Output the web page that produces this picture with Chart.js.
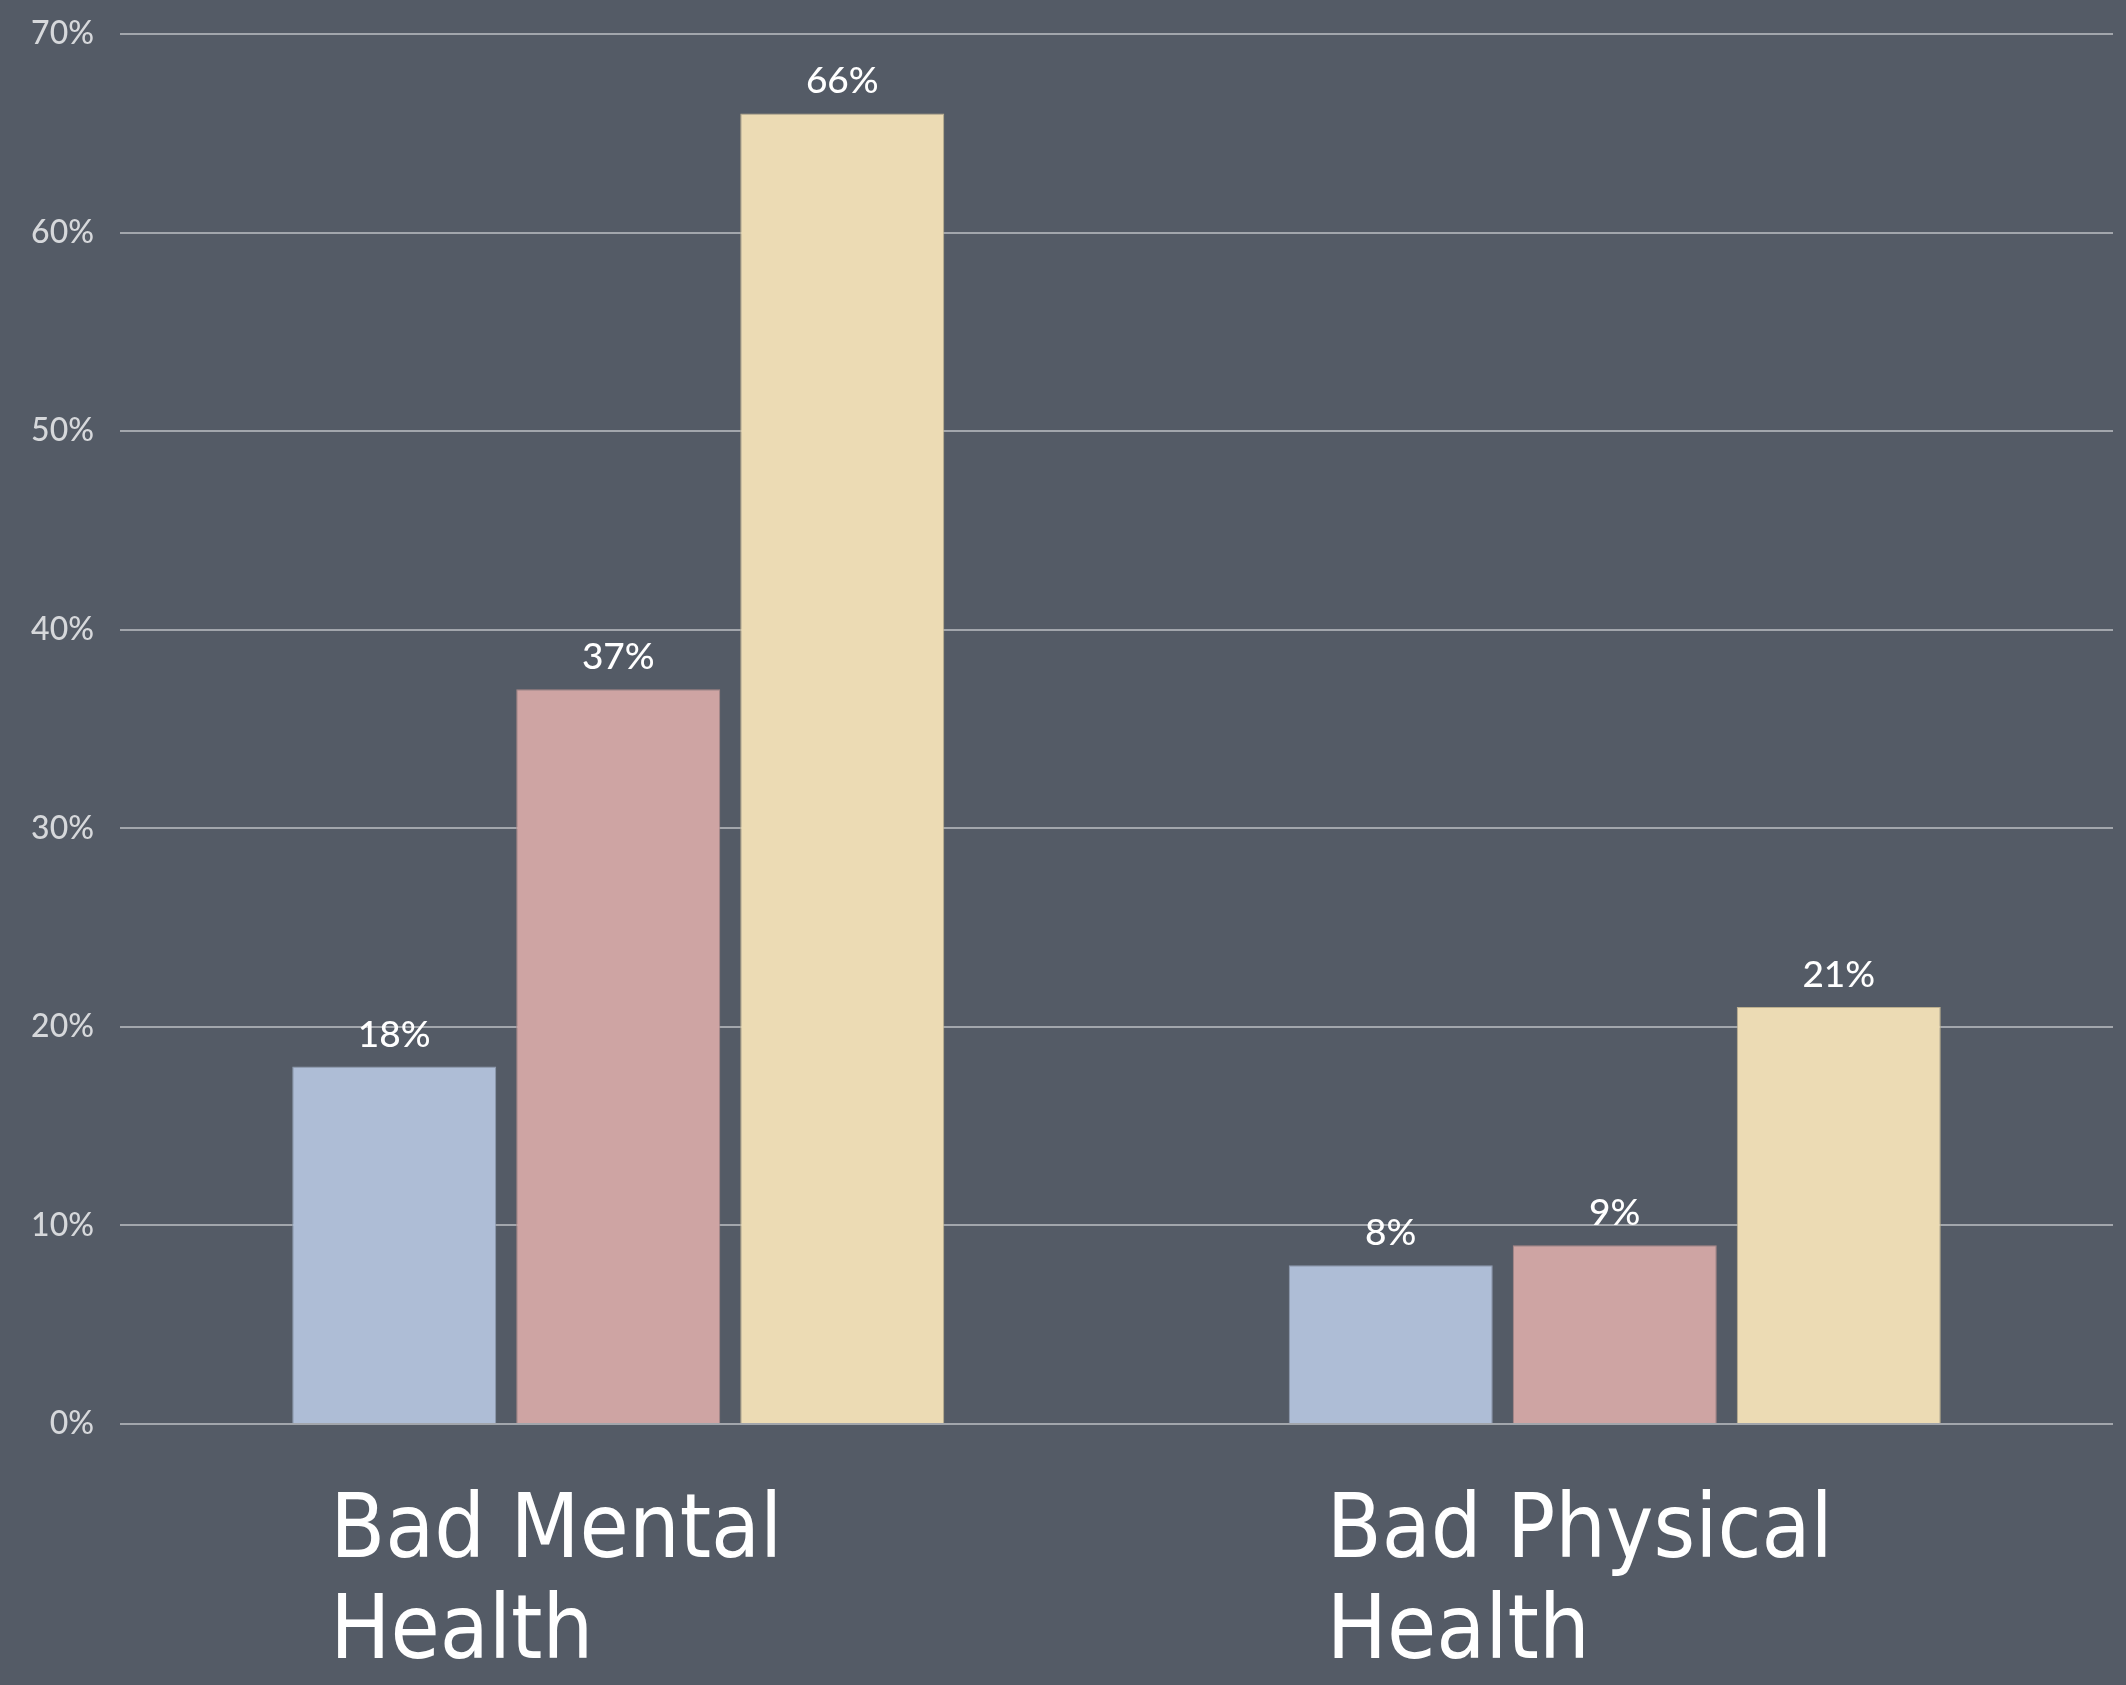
<!DOCTYPE html>
<html>
<head>
<meta charset="utf-8">
<title>Bad Mental / Physical Health</title>
<script src="https://cdn.jsdelivr.net/npm/chart.js@4.4.1/dist/chart.umd.min.js"></script>
<style>
  html, body { margin: 0; padding: 0; background: #545b66; }
  #wrap { width: 2126px; height: 1685px; position: relative; }
</style>
</head>
<body>
<div id="wrap"><canvas id="healthChart"></canvas></div>
<script>
// Categories along the x axis (two lines each)
const categories = [['Bad Mental', 'Health'], ['Bad Physical', 'Health']];

// Percentages per group, one array per coloured bar
const groupA = [18, 8];
const groupB = [37, 9];
const groupC = [66, 21];

// Y axis ticks
const yTicks = [0, 10, 20, 30, 40, 50, 60, 70];

const BG = '#545b66';

// Fill the canvas with the slate background
const backgroundFill = {
  id: 'backgroundFill',
  beforeDraw(chart) {
    const { ctx, width, height } = chart;
    ctx.save();
    ctx.fillStyle = BG;
    ctx.fillRect(0, 0, width, height);
    ctx.restore();
  }
};

// Percent label above each bar
const barValueLabels = {
  id: 'barValueLabels',
  afterDatasetsDraw(chart) {
    const { ctx } = chart;
    ctx.save();
    ctx.font = '500 37px Lato';
    ctx.fillStyle = '#ffffff';
    ctx.textAlign = 'center';
    ctx.textBaseline = 'alphabetic';
    chart.data.datasets.forEach((ds, i) => {
      chart.getDatasetMeta(i).data.forEach((bar, j) => {
        ctx.fillText(ds.data[j] + '%', bar.x, bar.y - 20);
      });
    });
    ctx.restore();
  }
};

const makeDataset = (label, data, fill, edge) => ({
  label,
  data,
  backgroundColor: fill,
  borderColor: edge,
  borderWidth: 1,
  categoryPercentage: 0.6744,
  barPercentage: 0.9107
});

const ctx = document.getElementById('healthChart').getContext('2d');
new Chart(ctx, {
  type: 'bar',
  data: {
    labels: categories,
    datasets: [
      makeDataset('A', groupA, '#aebdd6', '#8f9bb0'),
      makeDataset('B', groupB, '#cea4a3', '#a98888'),
      makeDataset('C', groupC, '#ecdbb4', '#bdb08f')
    ]
  },
  options: {
    responsive: true,
    maintainAspectRatio: false,
    animation: false,
    layout: { padding: { top: 34, right: 13, bottom: 0, left: 0 } },
    plugins: {
      legend: { display: false },
      tooltip: { enabled: false }
    },
    scales: {
      x: {
        grid: { display: false, drawTicks: false },
        border: { display: false },
        ticks: {
          color: '#ffffff',
          align: 'start',
          labelOffset: -288,
          padding: 60,
          maxRotation: 0,
          autoSkip: false,
          font: { family: "'DejaVu Sans Condensed', 'DejaVu Sans'", size: 89, lineHeight: 1.13 }
        },
        // fixed axis height, and no extra side room for the long labels
        afterFit: (scale) => {
          scale.height = 261;
          scale.paddingLeft = 0;
          scale.paddingRight = 0;
        }
      },
      y: {
        min: yTicks[0],
        max: yTicks[yTicks.length - 1],
        grid: { color: '#a2a6ac', lineWidth: 2, drawTicks: false },
        border: { display: false },
        afterBuildTicks: (scale) => { scale.ticks = yTicks.map((v) => ({ value: v })); },
        ticks: {
          color: '#d6d8db',
          padding: 26,
          font: { family: 'Lato', size: 32, weight: '500' },
          callback: (v) => v + '%'
        },
        afterFit: (scale) => {
          scale.width = 120;
          scale.paddingTop = 0;
          scale.paddingBottom = 0;
        }
      }
    }
  },
  plugins: [backgroundFill, barValueLabels]
});
</script>
</body>
</html>
